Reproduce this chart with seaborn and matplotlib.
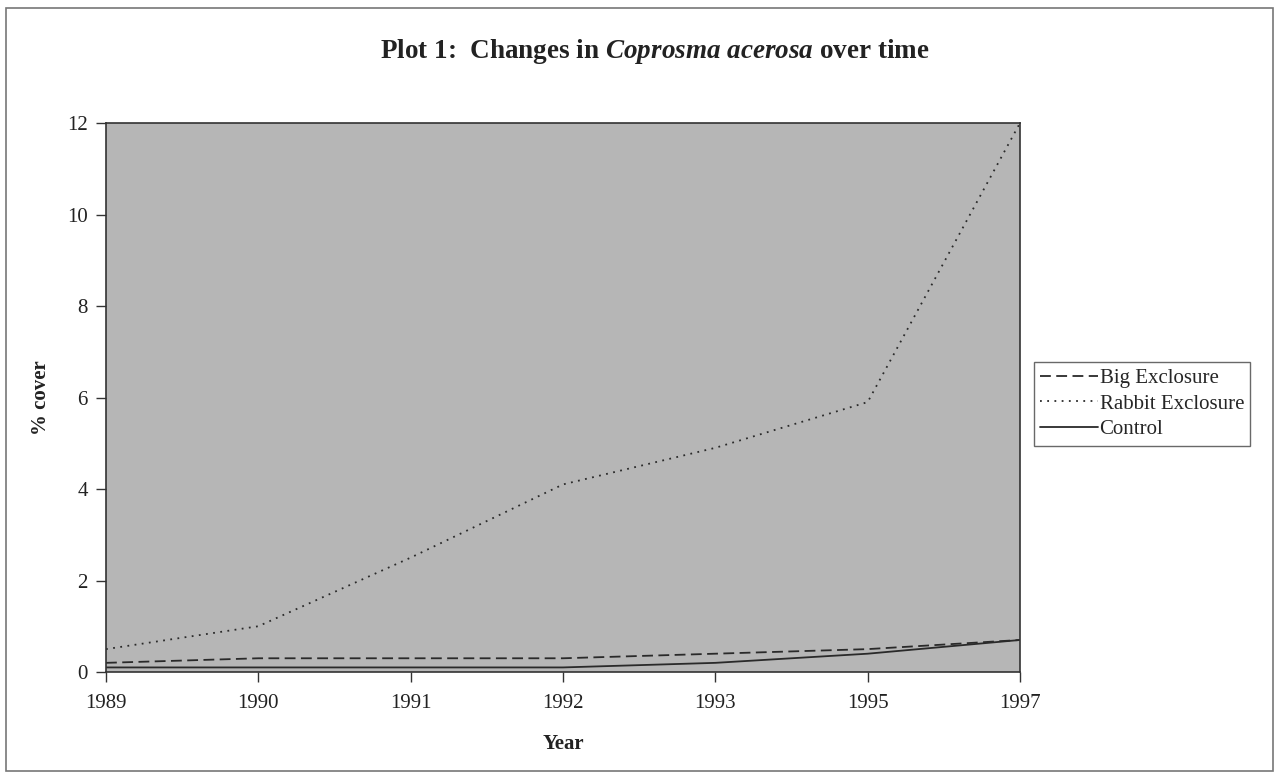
import numpy as np
import pandas as pd
import matplotlib.pyplot as plt
import seaborn as sns
from matplotlib.patches import Rectangle

# survey years (category axis) and % cover of each treatment
years = ["1989", "1990", "1991", "1992", "1993", "1995", "1997"]
big_exclosure = [0.2, 0.3, 0.3, 0.3, 0.4, 0.5, 0.7]
rabbit_exclosure = [0.5, 1.0, 2.5, 4.1, 4.9, 5.9, 12.0]
control = [0.1, 0.1, 0.1, 0.1, 0.2, 0.4, 0.7]
series = ["Big Exclosure", "Rabbit Exclosure", "Control"]

df = pd.DataFrame({
    "pos": np.arange(len(years)),
    "Big Exclosure": big_exclosure,
    "Rabbit Exclosure": rabbit_exclosure,
    "Control": control,
})
donnees = df.melt(id_vars="pos", var_name="treatment", value_name="cover")

sns.set_style("white")
plt.rcParams["font.family"] = ["Liberation Serif", "DejaVu Serif"]
plt.rcParams["mathtext.fontset"] = "custom"
plt.rcParams["mathtext.bfit"] = "Liberation Serif:italic:bold"
plt.rcParams["mathtext.rm"] = "Liberation Serif"

fig = plt.figure(figsize=(12.79, 7.77), dpi=100)
ax = fig.add_axes([106 / 1279, 1 - 672 / 777, (1020 - 106) / 1279, (672 - 123) / 777])
ax.set_facecolor("#b6b6b6")

sns.lineplot(data=donnees, x="pos", y="cover", style="treatment",
             style_order=series,
             dashes={"Big Exclosure": (6, 3), "Rabbit Exclosure": (1, 3), "Control": ""},
             color="#2a2a2a", linewidth=1.3, ax=ax)

ax.set_xlim(0, len(years) - 1)
ax.set_ylim(0, 12)
ax.set_xticks(np.arange(len(years)))
ax.set_xticklabels(years)
ax.set_yticks(range(0, 13, 2))
ax.tick_params(axis="both", direction="out", length=7, width=1, color="#333333",
               labelsize=15, labelcolor="#222222", left=True, bottom=True)
ax.tick_params(axis="x", pad=9)
ax.tick_params(axis="y", pad=6)
for s in ax.spines.values():
    s.set_color("#333333")
    s.set_linewidth(1.2)

ax.set_xlabel("Year", fontsize=15, fontweight="bold", color="#222222", labelpad=15)
ax.set_ylabel("% cover", fontsize=15, fontweight="bold", color="#222222", labelpad=12)

fig.text(655 / 1279, 1 - 52 / 777,
         r"Plot 1:  Changes in $\mathbfit{Coprosma}$ $\mathbfit{acerosa}$ over time",
         ha="center", va="center", fontsize=19.5, fontweight="bold", color="#222222")

handles, labels = ax.get_legend_handles_labels()
ax.get_legend().remove()
leg = fig.legend(handles, labels, loc="upper left",
                 bbox_to_anchor=(1034 / 1279, 1 - 362 / 777),
                 frameon=True, fancybox=False, fontsize=15, handlelength=2.75,
                 handletextpad=0.1, borderpad=0.3, labelspacing=0.3,
                 borderaxespad=0)
leg.get_frame().set_edgecolor("#444444")
leg.get_frame().set_linewidth(1.0)

# outer chart border
fig.patches.append(Rectangle((6 / 1279, 6 / 777), 1 - 12 / 1279, 1 - 14 / 777,
                             transform=fig.transFigure, fill=False,
                             edgecolor="#777777", linewidth=1.2))

fig.savefig("out.png", dpi=100)
